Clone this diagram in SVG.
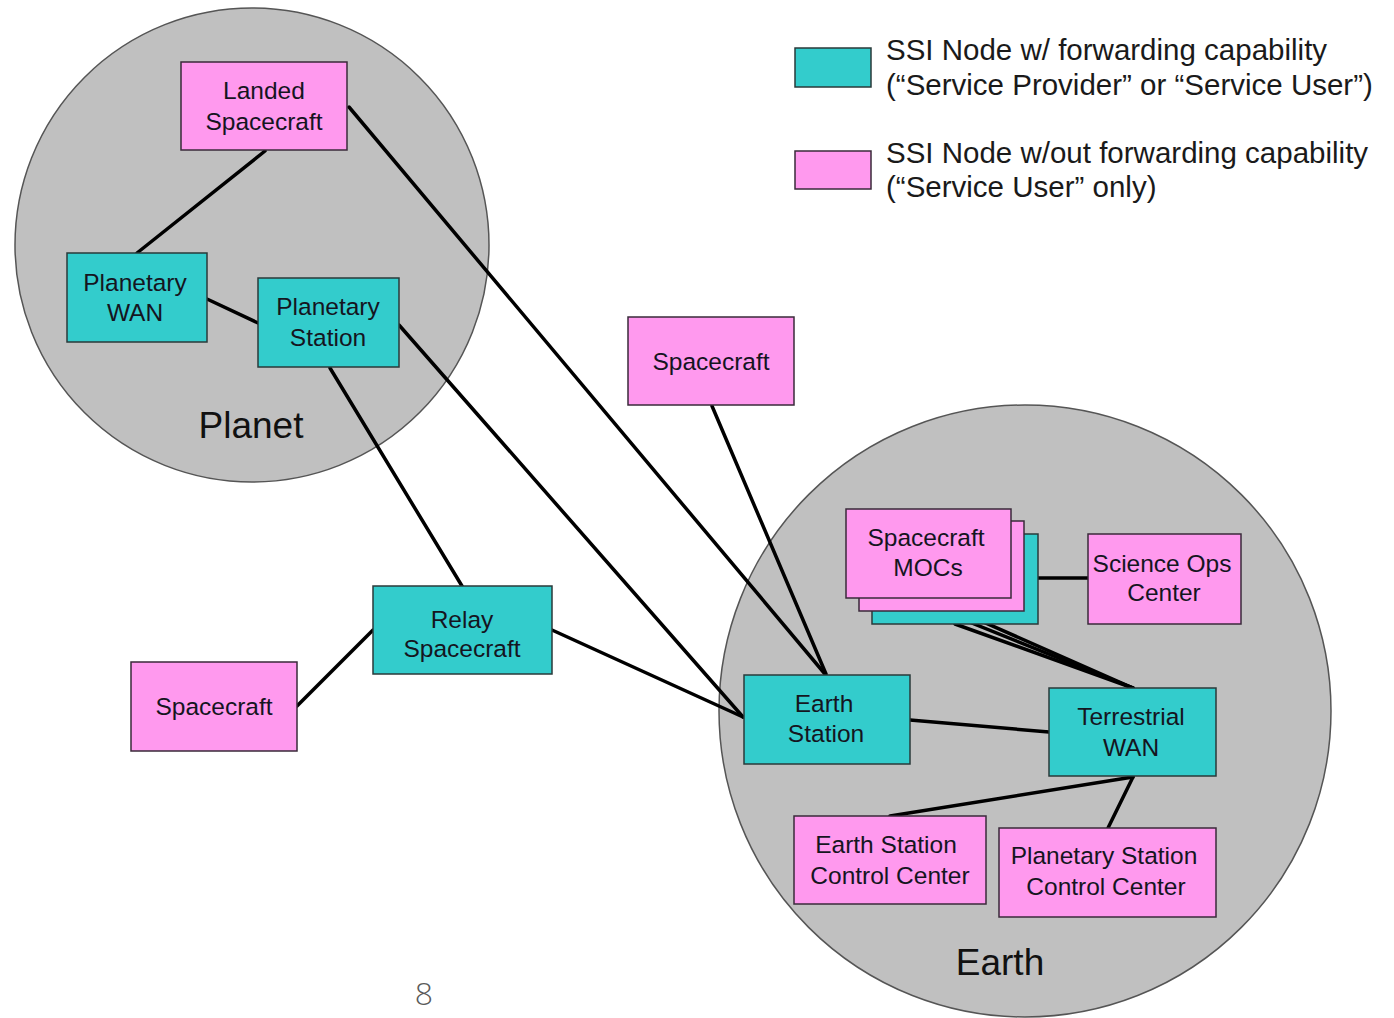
<svg xmlns="http://www.w3.org/2000/svg" width="1394" height="1018" viewBox="0 0 1394 1018">
<style>
  .bg { fill: #ffffff; }
  .region { fill: #c0c0c0; stroke: #555555; stroke-width: 1.5; }
  .teal { fill: #33cccc; stroke: #2a3a3a; stroke-width: 1.5; }
  .pink { fill: #ff99ee; stroke: #3a2a3a; stroke-width: 1.5; }
  .lbl { font-family: "Liberation Sans", Arial, sans-serif; font-size: 24.5px; fill: #15151f; text-anchor: middle; }
  .big { font-family: "Liberation Sans", Arial, sans-serif; font-size: 37px; fill: #111111; text-anchor: middle; }
  .leg { font-family: "Liberation Sans", Arial, sans-serif; font-size: 29.5px; fill: #1a1a1a; }
  .page { font-family: "Open Sans", "Liberation Sans", sans-serif; font-weight: 300; font-size: 32px; fill: #5a5a5a; text-anchor: middle; }
  .conn line { stroke: #000000; stroke-width: 3.5; stroke-linecap: round; }
</style>
<rect class="bg" x="0" y="0" width="1394" height="1018"/>

<g id="planet-region">
  <circle class="region" cx="252" cy="245" r="237"/>
  <text class="big" x="251" y="438">Planet</text>
</g>
<g id="earth-region">
  <circle class="region" cx="1025" cy="711" r="306"/>
  <text class="big" x="1000" y="975">Earth</text>
</g>

<g id="legend">
  <rect class="teal" x="795" y="48" width="76" height="39"/>
  <text class="leg" x="886" y="60">SSI Node w/ forwarding capability</text>
  <text class="leg" x="886" y="95">(“Service Provider” or “Service User”)</text>
  <rect class="pink" x="795" y="151" width="76" height="38"/>
  <text class="leg" x="886" y="163">SSI Node w/out forwarding capability</text>
  <text class="leg" x="886" y="197">(“Service User” only)</text>
</g>

<g id="connectors" class="conn">
  <line x1="265" y1="151" x2="137" y2="253"/>
  <line x1="207" y1="299" x2="258" y2="323"/>
  <line x1="349" y1="107" x2="825" y2="674"/>
  <line x1="712" y1="406" x2="826" y2="674"/>
  <line x1="399" y1="325" x2="743" y2="717"/>
  <line x1="330" y1="368" x2="462" y2="586"/>
  <line x1="552" y1="630" x2="743" y2="717"/>
  <line x1="297" y1="706" x2="373" y2="630"/>
  <line x1="1038" y1="578" x2="1088" y2="578"/>
  <line x1="929" y1="598" x2="1133" y2="688"/>
  <line x1="942" y1="611" x2="1133" y2="688"/>
  <line x1="955" y1="624" x2="1133" y2="688"/>
  <line x1="910" y1="720" x2="1049" y2="732"/>
  <line x1="890" y1="816" x2="1133" y2="777"/>
  <line x1="1133" y1="777" x2="1108" y2="828"/>
</g>

<g id="landed-spacecraft">
  <rect class="pink" x="181" y="62" width="166" height="88"/>
  <text class="lbl" x="264" y="99">Landed</text>
  <text class="lbl" x="264" y="130">Spacecraft</text>
</g>
<g id="planetary-wan">
  <rect class="teal" x="67" y="253" width="140" height="89"/>
  <text class="lbl" x="135" y="291">Planetary</text>
  <text class="lbl" x="135" y="321">WAN</text>
</g>
<g id="planetary-station">
  <rect class="teal" x="258" y="278" width="141" height="89"/>
  <text class="lbl" x="328" y="315">Planetary</text>
  <text class="lbl" x="328" y="346">Station</text>
</g>
<g id="spacecraft-top">
  <rect class="pink" x="628" y="317" width="166" height="88"/>
  <text class="lbl" x="711" y="370">Spacecraft</text>
</g>
<g id="relay-spacecraft">
  <rect class="teal" x="373" y="586" width="179" height="88"/>
  <text class="lbl" x="462" y="628">Relay</text>
  <text class="lbl" x="462" y="657">Spacecraft</text>
</g>
<g id="spacecraft-left">
  <rect class="pink" x="131" y="662" width="166" height="89"/>
  <text class="lbl" x="214" y="715">Spacecraft</text>
</g>
<g id="spacecraft-mocs">
  <rect class="teal" x="872" y="534" width="166" height="90"/>
  <rect class="pink" x="859" y="521" width="165" height="90"/>
  <rect class="pink" x="846" y="509" width="165" height="89"/>
  <text class="lbl" x="926" y="546">Spacecraft</text>
  <text class="lbl" x="928" y="576">MOCs</text>
</g>
<g id="science-ops-center">
  <rect class="pink" x="1088" y="534" width="153" height="90"/>
  <text class="lbl" x="1162" y="572">Science Ops</text>
  <text class="lbl" x="1164" y="601">Center</text>
</g>
<g id="earth-station">
  <rect class="teal" x="744" y="675" width="166" height="89"/>
  <text class="lbl" x="824" y="712">Earth</text>
  <text class="lbl" x="826" y="742">Station</text>
</g>
<g id="terrestrial-wan">
  <rect class="teal" x="1049" y="688" width="167" height="88"/>
  <text class="lbl" x="1131" y="725">Terrestrial</text>
  <text class="lbl" x="1131" y="756">WAN</text>
</g>
<g id="earth-station-control-center">
  <rect class="pink" x="794" y="816" width="192" height="88"/>
  <text class="lbl" x="886" y="853">Earth Station</text>
  <text class="lbl" x="890" y="884">Control Center</text>
</g>
<g id="planetary-station-control-center">
  <rect class="pink" x="999" y="828" width="217" height="89"/>
  <text class="lbl" x="1104" y="864">Planetary Station</text>
  <text class="lbl" x="1106" y="895">Control Center</text>
</g>

<text class="page" x="424" y="1005">8</text>
</svg>
